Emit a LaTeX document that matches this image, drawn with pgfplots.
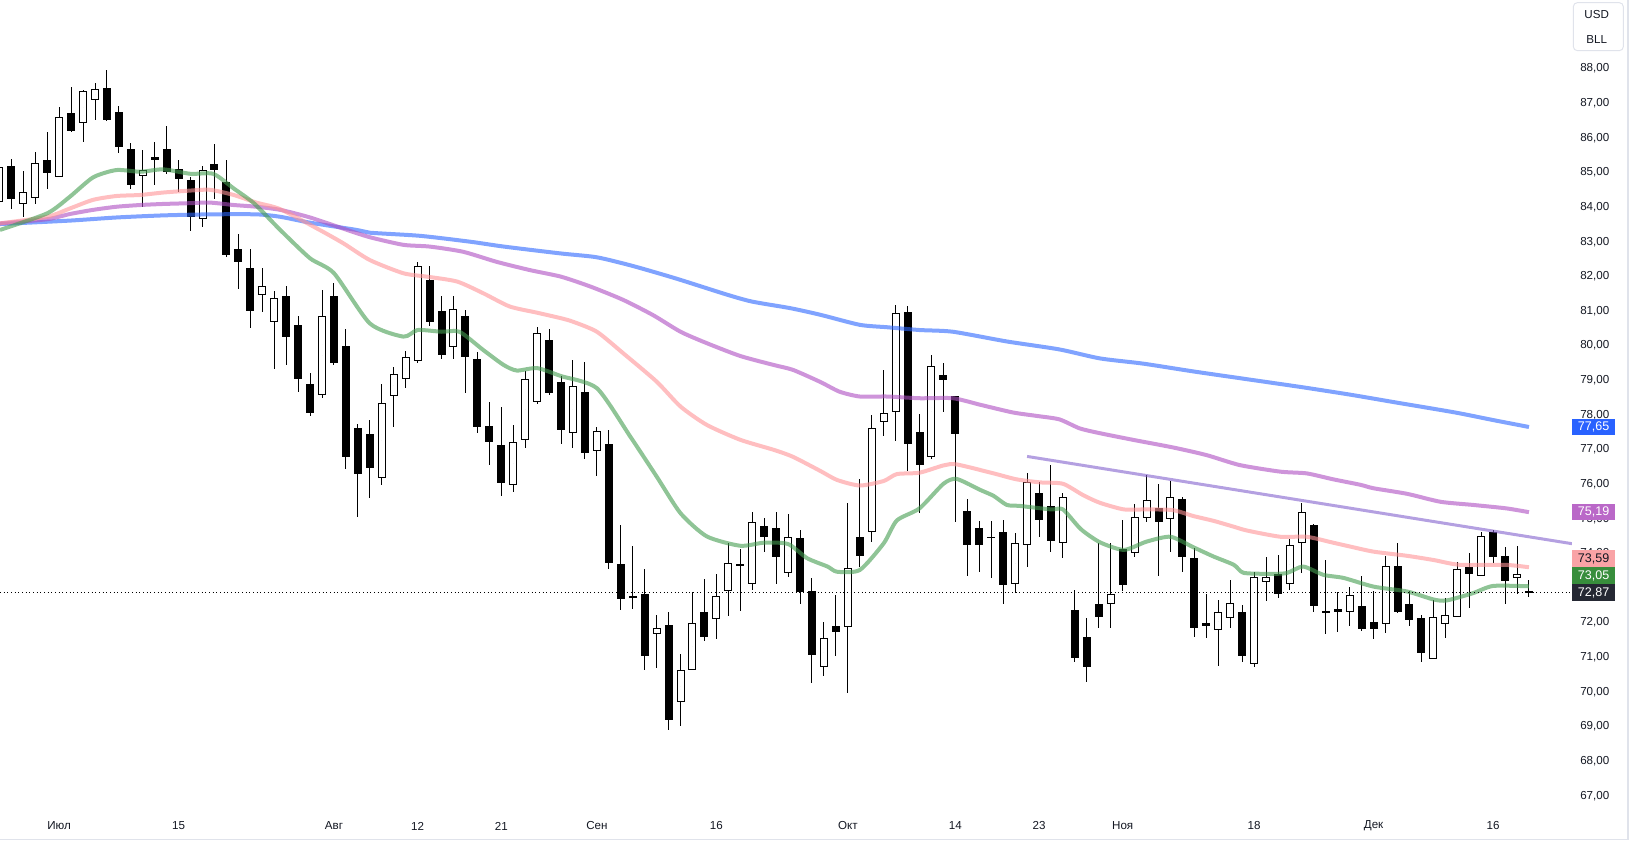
\documentclass[border=0pt]{standalone}
\usepackage{pgfplots}
\pgfplotsset{compat=1.18}
\usepackage{pgfplotstable}
\usepackage{fontspec}
\setmainfont{Liberation Sans}

\definecolor{txt}{HTML}{131722}
\definecolor{maG}{RGB}{68,157,80}
\definecolor{maP}{RGB}{255,147,150}
\definecolor{maV}{RGB}{173,77,193}
\definecolor{maB}{RGB}{43,102,255}
\definecolor{trendC}{RGB}{130,97,205}
\definecolor{lbB}{HTML}{2962FF}
\definecolor{lbV}{HTML}{BA68C8}
\definecolor{lbP}{HTML}{F9A3A6}
\definecolor{lbG}{HTML}{388E3C}
\definecolor{lbD}{HTML}{252833}
\definecolor{frameC}{HTML}{E0E3EB}

% up (hollow) candles: index open high low close
\pgfplotstableread{
i o h l c
-5 84.16 85.30 84.00 85.15
-3 84.08 85.04 83.72 84.45
-2 84.25 85.59 84.09 85.26
0 84.88 86.89 84.86 86.59
2 86.42 87.38 85.89 87.34
3 87.08 87.59 86.52 87.42
7 84.91 85.65 84.01 85.06
12 83.65 85.19 83.44 85.06
17 81.45 82.24 80.96 81.71
18 80.67 81.58 79.32 81.39
22 78.57 81.61 78.48 80.85
27 76.17 78.89 75.98 78.34
28 78.54 79.39 77.66 79.17
29 79.03 79.85 78.79 79.66
30 79.55 82.42 79.49 82.30
33 79.95 81.43 79.62 81.05
38 75.97 77.71 75.78 77.21
39 77.27 79.27 77.05 79.03
40 78.38 80.53 78.32 80.36
43 77.47 79.59 77.03 78.83
45 76.95 77.65 76.25 77.53
50 71.67 72.22 70.68 71.84
52 69.70 71.10 69.03 70.63
53 70.62 72.88 70.62 71.99
55 72.10 73.41 71.53 72.76
56 72.90 74.30 72.20 73.72
58 73.13 75.20 72.94 74.90
61 73.43 75.14 73.31 74.47
64 70.71 72.02 70.47 71.55
66 71.87 75.46 69.96 73.57
68 74.61 78.00 74.34 77.61
69 77.79 79.30 77.40 78.05
70 78.07 81.17 77.26 80.93
73 76.77 79.72 76.73 79.40
80 73.11 74.59 72.85 74.29
81 74.24 76.31 73.60 76.05
84 74.29 75.74 73.86 75.62
88 72.53 74.29 71.86 72.82
90 74.00 75.42 73.91 75.06
91 75.01 76.26 74.92 75.53
93 74.98 76.08 74.05 75.62
97 71.78 72.66 70.76 72.30
98 72.13 73.23 71.84 72.56
100 70.80 73.47 70.73 73.31
101 73.16 73.89 72.64 73.31
103 73.11 74.41 72.94 74.23
104 74.29 75.45 73.44 75.19
108 72.30 73.04 71.89 72.79
111 71.95 73.93 71.71 73.63
115 70.94 72.66 70.94 72.16
116 71.95 72.70 71.57 72.21
117 72.15 73.76 72.15 73.54
119 73.34 74.63 73.34 74.49
122 73.28 74.20 72.84 73.40
}\candlesUp

% down (filled) candles: index open high low close
\pgfplotstableread{
i o h l c
-4 85.18 85.39 83.96 84.22
-1 85.36 86.17 84.53 84.99
1 86.71 87.47 86.18 86.21
4 87.43 87.96 86.50 86.52
5 86.74 86.92 85.57 85.75
6 85.67 85.84 84.53 84.65
8 85.45 85.88 84.65 85.37
9 85.67 86.34 84.97 85.02
10 85.10 85.36 84.45 84.82
11 84.78 84.86 83.32 83.72
13 85.25 85.82 84.24 85.08
14 84.72 85.36 82.57 82.63
15 82.79 83.22 81.63 82.41
16 82.24 82.79 80.52 81.01
19 81.43 81.72 79.45 80.26
20 80.59 80.85 78.67 79.05
21 78.89 79.20 77.98 78.06
23 81.43 81.81 79.45 79.51
24 79.98 80.48 76.45 76.79
25 77.61 77.74 75.06 76.30
26 77.45 77.85 75.61 76.48
31 81.90 82.30 80.58 80.69
32 81.00 81.43 79.62 79.74
34 80.86 81.03 78.64 79.68
35 79.61 79.82 77.49 77.66
36 77.68 78.37 76.56 77.21
37 77.13 78.23 75.67 76.04
41 80.16 80.47 78.58 78.64
42 78.95 79.12 77.16 77.57
44 78.66 79.53 76.73 76.90
46 77.16 77.57 73.54 73.73
47 73.69 74.81 72.37 72.69
48 72.77 74.22 72.40 72.70
49 72.82 73.55 70.63 71.05
51 71.93 72.31 68.90 69.19
54 72.31 73.26 71.48 71.60
57 73.70 74.13 72.35 73.65
59 74.78 75.02 74.03 74.48
60 74.73 75.20 73.12 73.91
62 74.45 74.68 72.53 72.89
63 72.92 73.29 70.27 71.08
65 71.89 72.80 71.05 71.72
67 74.47 76.15 73.62 73.92
71 80.96 81.15 76.39 77.17
72 77.50 78.02 75.18 76.56
74 79.15 79.50 78.07 79.02
75 78.54 78.54 74.90 77.46
76 75.23 75.57 73.36 74.25
77 74.73 74.94 73.45 74.23
78 74.48 74.94 73.30 74.46
79 74.61 74.97 72.53 73.08
82 75.74 76.05 74.47 74.95
83 75.36 76.55 74.03 74.37
85 72.36 72.95 70.85 70.99
86 71.58 72.13 70.30 70.73
87 72.54 74.29 71.86 72.15
89 74.12 74.96 72.92 73.10
92 75.30 76.00 73.36 74.92
94 75.56 75.62 73.47 73.89
95 73.86 74.15 71.60 71.84
96 71.98 72.83 71.57 71.89
99 72.30 72.51 70.85 71.05
102 73.40 73.95 72.72 72.82
105 74.82 74.85 72.32 72.49
106 72.34 73.81 71.66 72.29
107 72.39 72.88 71.74 72.30
109 72.48 73.35 71.77 71.83
110 72.02 72.91 71.54 71.83
112 73.64 74.31 72.29 72.31
113 72.54 72.92 71.91 72.09
114 72.14 72.22 70.87 71.13
118 73.60 74.02 72.43 73.42
120 74.62 74.68 73.73 73.91
121 73.92 74.18 72.53 73.19
123 72.92 73.23 72.75 72.87
}\candlesDn

\begin{document}
\begin{tikzpicture}
\path[use as bounding box] (0,0) rectangle (1221.75pt,630pt);
\begin{axis}[
  at={(0pt,630pt)}, anchor=north west,
  scale only axis, width=1179pt, height=607.5pt,
  xmin=-4.95, xmax=126.6, ymin=66.59, ymax=89.98,
  axis line style={draw=none},
  major tick length=0pt,
  tick style={draw=none},
  ytick={67,68,...,88},
  yticklabel pos=right,
  yticklabel style={anchor=west, inner sep=0pt, xshift=6pt,
    font=\fontsize{8.7}{10}\selectfont, text=txt,
    /pgf/number format/.cd, fixed, fixed zerofill, precision=2, use comma, assume math mode=true},
  xtick={0,10,23,30,37,45,55,66,75,82,89,100,110,120},
  xticklabels={Июл,15,Авг,12,21,Сен,16,Окт,14,23,Ноя,18,Дек,16},
  xticklabel style={anchor=center, inner sep=0pt, yshift=-12pt,
    font=\fontsize{8.7}{10}\selectfont, text=txt},
  candle/.style={only marks, mark=*, mark size=0pt, mark options={draw=none, fill=none},
    error bars/.cd, y dir=both, y explicit, error mark=none},
]
% wicks
\addplot[candle, error bar style={draw=black, line width=0.75pt}]
  table[x=i, y expr={(\thisrow{h}+\thisrow{l})/2}, y error expr={(\thisrow{h}-\thisrow{l})/2}] {\candlesUp};
\addplot[candle, error bar style={draw=black, line width=0.75pt}]
  table[x=i, y expr={(\thisrow{h}+\thisrow{l})/2}, y error expr={(\thisrow{h}-\thisrow{l})/2}] {\candlesDn};
% bodies
\addplot[candle, error bar style={draw=black, line width=6pt, line cap=butt}]
  table[x=i, y expr={(\thisrow{o}+\thisrow{c})/2}, y error expr={max(abs(\thisrow{o}-\thisrow{c})/2,0.0145)}] {\candlesDn};
\addplot[candle, error bar style={draw=black, line width=6pt, line cap=butt}]
  table[x=i, y expr={(\thisrow{o}+\thisrow{c})/2}, y error expr={max(abs(\thisrow{o}-\thisrow{c})/2,0.0145)}] {\candlesUp};
\addplot[candle, error bar style={draw=white, line width=4.5pt, line cap=butt}]
  table[x=i, y expr={(\thisrow{o}+\thisrow{c})/2}, y error expr={max(abs(\thisrow{o}-\thisrow{c})/2-0.029,0.0001)}] {\candlesUp};

% moving averages
\addplot[maB, line width=3pt, opacity=0.6, smooth, tension=0.4] coordinates {
(-4.95,83.51) (0.9,83.61) (4.8,83.70) (8.7,83.76) (12.6,83.79) (16.5,83.79) (18.5,83.72)
(21,83.55) (24.9,83.34) (26,83.26) (30.2,83.17) (34.4,83.00) (37.2,82.86) (42,82.66)
(45,82.55) (48,82.30) (51.6,81.94) (55.9,81.47) (58,81.27) (61.2,81.08) (63.7,80.89)
(67,80.60) (69.3,80.53) (72,80.45) (74.8,80.40) (79.3,80.12) (83.7,79.89) (87.1,79.63)
(90.7,79.48) (95,79.25) (99.4,79.03) (104,78.80) (108.1,78.58) (112,78.35) (116.8,78.07)
(120,77.85) (123,77.65)};
\addplot[maV, line width=3pt, opacity=0.6, smooth, tension=0.4] coordinates {
(-4.95,83.53) (-1,83.65) (0.9,83.80) (2.85,83.92) (4.8,84.01) (6.8,84.06) (8.7,84.09)
(10.7,84.11) (12.6,84.13) (14.6,84.06) (16.5,84.01) (18.5,83.92) (21,83.70) (24.1,83.34)
(26,83.13) (28.8,82.91) (31,82.86) (33.8,82.71) (36.6,82.42) (39.4,82.18) (42,81.99)
(44.5,81.70) (47.2,81.32) (49.7,80.88) (52,80.40) (54.2,80.07) (57,79.70) (59.8,79.44)
(61.4,79.30) (63.7,78.95) (65.3,78.67) (67,78.53) (69.3,78.53) (72,78.48) (74.8,78.48)
(77.1,78.29) (79.8,78.07) (81.8,77.97) (83.7,77.87) (85.4,77.61) (87.1,77.47) (90,77.27)
(93.2,77.06) (96,76.84) (98.8,76.55) (102.2,76.36) (104.4,76.31) (106.6,76.14) (108.9,75.98)
(110,75.88) (112.8,75.72) (115.6,75.49) (118.3,75.40) (121.1,75.30) (123,75.19)};
\addplot[maP, line width=3pt, opacity=0.6, smooth, tension=0.4] coordinates {
(-4.95,83.53) (-1,83.72) (0.9,83.96) (2.85,84.21) (4.8,84.32) (6.8,84.35) (8.7,84.42)
(10.7,84.47) (12.6,84.50) (14.6,84.35) (16.5,84.13) (18.5,83.94) (21.8,83.34) (23.8,82.95)
(26,82.47) (28.8,82.09) (30.8,81.99) (33.3,81.85) (35.5,81.51) (37.7,81.13) (40,80.95)
(42,80.79) (43,80.69) (45,80.40) (47.2,79.78) (50,78.96) (52,78.24) (54.2,77.71)
(57,77.28) (59.8,76.99) (61.4,76.79) (63.7,76.38) (65.1,76.12) (67,75.96) (69,76.09)
(70.1,76.29) (72,76.33) (74,76.54) (75.1,76.57) (78.2,76.31) (80.1,76.14) (82.1,76.05)
(84,76.01) (85.7,75.68) (87.1,75.46) (89.1,75.27) (91,75.27) (93.2,75.25) (94.9,75.08)
(96.6,74.94) (98.3,74.77) (99.4,74.66) (102.2,74.48) (104.4,74.48) (106.6,74.31) (108,74.20)
(110,74.05) (112.8,73.93) (115,73.81) (117.2,73.67) (121,73.67) (123,73.60)};
\addplot[maG, line width=3pt, opacity=0.6, smooth, tension=0.4] coordinates {
(-4.95,83.34) (-1,83.82) (0.9,84.30) (2.85,84.86) (4.8,85.07) (6.8,85.02) (8.7,85.09)
(11,84.96) (12.9,84.96) (14.6,84.54) (16.3,84.11) (18.5,83.34) (21,82.52) (23,82.09)
(26,80.64) (28.8,80.26) (30,80.45) (32,80.40) (33.5,80.40) (35.5,79.87) (37.2,79.44)
(38.3,79.28) (40,79.35) (42,79.12) (45,78.77) (47.8,77.37) (50,76.22) (52,75.16)
(54.2,74.49) (57,74.22) (59,74.31) (61,74.27) (62.6,73.86) (64.3,73.62) (65.1,73.47)
(67,73.52) (69,74.29) (70.1,74.95) (72,75.30) (74,76.01) (75.1,76.15) (77.1,75.83)
(78.2,75.66) (79.3,75.40) (80.4,75.37) (83,75.27) (84,75.27) (85.5,74.70) (87.1,74.32)
(89.1,74.10) (91,74.34) (93,74.48) (94.9,74.18) (96.6,73.91) (98.3,73.67) (99.1,73.44)
(101.1,73.41) (102.7,73.43) (104.1,73.62) (105.8,73.38) (107.5,73.29) (110,73.04)
(112.8,72.90) (115,72.67) (116.1,72.64) (118.3,72.85) (120,73.06) (123,73.05)};
% trend line
\addplot[trendC, line width=2.25pt, opacity=0.6] coordinates {(81,76.80) (126.6,74.28)};
% last price line
\addplot[black, line width=0.75pt, dash pattern=on 0.75pt off 2pt] coordinates {(-4.95,72.87) (126.6,72.87)};

\coordinate (lB) at (axis cs:126.6,77.65);
\coordinate (lV) at (axis cs:126.6,75.19);
\coordinate (lD) at (axis cs:126.6,72.87);
\end{axis}
\tikzset{lbl/.style={anchor=west, minimum width=32pt, minimum height=12.2pt, inner sep=0pt,
  font=\fontsize{9.4}{10}\selectfont}}
\node[lbl, fill=lbB, text=white] at (lB) {77,65};
\node[lbl, fill=lbV, text=white] at (lV) {75,19};
\node[lbl, fill=lbP, text=txt] at ([yshift=25.5pt]lD) {73,59};
\node[lbl, fill=lbG, text=white] at ([yshift=12.75pt]lD) {73,05};
\node[lbl, fill=lbD, text=white] at (lD) {72,87};
% frame
\draw[frameC, line width=1.2pt] (1221.2pt,0) -- (1221.2pt,630pt);
\draw[frameC, line width=1.2pt] (0,0.5pt) -- (1221.75pt,0.5pt);
\draw[frameC, line width=0.75pt, rounded corners=3pt] (1180pt,592pt) rectangle (1217.5pt,628pt);
\node[font=\fontsize{8.7}{10}\selectfont, text=txt] at (1197.5pt,619pt) {USD};
\node[font=\fontsize{8.7}{10}\selectfont, text=txt] at (1197.5pt,600.5pt) {BLL};
\end{tikzpicture}
\end{document}
